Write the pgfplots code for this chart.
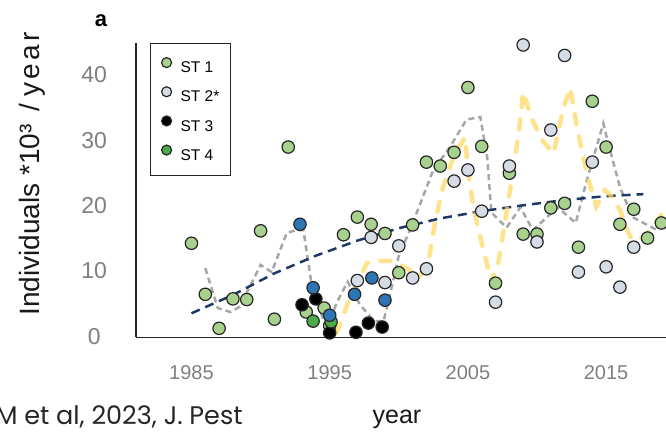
\documentclass[border=0pt]{standalone}
\usepackage{pgfplots}
\pgfplotsset{compat=1.18}
\usepackage{fontspec}
\setmainfont{Liberation Sans}
\newfontfamily\popfont{Poppins}

\definecolor{stone}{HTML}{A9D18E}
\definecolor{sttwo}{HTML}{D6DCE5}
\definecolor{stfour}{HTML}{4AAB4A}
\definecolor{stblue}{HTML}{2E75B6}
\definecolor{trendblue}{HTML}{1F3864}
\definecolor{greyline}{HTML}{A6A6A6}
\definecolor{yelline}{HTML}{FFD966}
\definecolor{ticklab}{HTML}{7F7F7F}

\pgfplotsset{
  stpts/.style={only marks, mark=*, mark size=6.2pt,
    mark options={draw=black!85, line width=1.2pt, fill=#1},
    legend image code/.code={\draw[##1, mark size=5pt] plot coordinates {(0pt,5.5pt)};}},
}

\begin{document}
\begin{tikzpicture}
\useasboundingbox (0pt,0pt) rectangle (666pt,433pt);
\begin{axis}[
  at={(136.2pt,95.5pt)}, anchor=south west, scale only axis,
  width=539pt, height=294.5pt,
  xmin=1981, xmax=2020, ymin=0, ymax=45,
  axis x line*=bottom, axis y line*=left,
  axis line style={line width=1.8pt, black!85, -},
  xtick={1985,1995,2005,2015}, ytick={0,10,20,30,40},
  major tick length=0pt,
  /pgf/number format/assume math mode=true,
  /pgf/number format/1000 sep={},
  tick label style={text=ticklab},
  xticklabel style={font=\fontsize{20}{20}\selectfont, anchor=center, yshift=-35pt},
  yticklabel style={font=\fontsize{23}{23}\selectfont, anchor=center, xshift=-42pt, yshift=1pt},
  clip=false,
  legend cell align=left,
  legend style={at={(0.0256,1)}, anchor=north west,
    draw=black!85, line width=1.2pt, fill=white,
    font=\fontsize{15.5}{15.5}\selectfont,
    inner xsep=11pt, inner ysep=14pt, row sep=12.5pt, column sep=9pt,
    nodes={inner sep=0pt}},
]
% ST 1
\addplot[stpts=stone] coordinates {
(1985,14.4) (1986,6.6) (1987,1.4) (1988,5.9) (1989,5.8) (1990,16.3) (1991,2.8)
(1992,29.1) (1993.3,3.9) (1994.6,4.5) (1995,1.8) (1996,15.7) (1997,18.4)
(1998,17.3) (1999,15.9) (2000,9.9) (2001,17.2) (2002,26.8) (2003,26.2)
(2004,28.3) (2005,38.2) (2006,29.2) (2007,8.3) (2008,25.1) (2009,15.8)
(2010,15.8) (2011,19.8) (2012,20.5) (2013,13.8) (2014,36.1) (2015,29.1)
(2016,17.3) (2017,19.6) (2018,15.2) (2019,17.5)};
\addlegendentry{ST 1}
% ST 2*
\addplot[stpts=sttwo] coordinates {
(1997,8.7) (1998,15.3) (1999,8.4) (2000,14.0) (2001,9.1) (2002,10.5)
(2004,23.9) (2005,25.6) (2006,19.3) (2007,5.4) (2008,26.2) (2009,44.7)
(2010,14.6) (2011,31.7) (2012,43.1) (2013,10.0) (2014,26.8) (2015,10.8)
(2016,7.7) (2017,13.8)};
\addlegendentry{ST 2*}
% ST 3
\addplot[stpts=black] coordinates {
(1993,5.0) (1994,5.9) (1995,0.7) (1996.9,0.8) (1997.8,2.2) (1998.8,1.6)};
\addlegendentry{ST 3}
% ST 4
\addplot[stpts=stfour] coordinates {(1993.8,2.5) (1995.1,2.4)};
\addlegendentry{ST 4}
% blue station (no legend entry)
\addplot[stpts=stblue, forget plot] coordinates {
(1992.85,17.3) (1993.8,7.6) (1995,3.4) (1996.8,6.6) (1998.05,9.1) (1999,5.7)};
% grey dashed line
\addplot[forget plot, no marks, greyline, line width=2.5pt, dash pattern=on 6pt off 4pt] coordinates {
(1986.0,10.6) (1986.9,4.5) (1987.8,3.9) (1988.5,4.7) (1990.0,11.1) (1990.8,10.0)
(1991.9,16.0) (1992.6,16.4) (1993.1,16.4) (1993.7,8.0) (1994.1,5.4) (1994.8,1.1)
(1995.5,5.3) (1996.3,8.5) (1997.2,5.0) (1998.2,2.5) (1998.9,2.5) (1999.4,6.9)
(2000.0,12.5) (2000.8,16.4) (2002.5,25.6) (2003.7,29.1) (2004.9,33.3)
(2005.9,33.7) (2006.4,27.5) (2006.7,19.1) (2007.8,16.8) (2008.8,19.9)
(2009.7,16.4) (2011.5,19.9) (2012.8,17.5) (2013.6,24.0) (2014.8,32.7)
(2015.1,30.1) (2016.0,23.0) (2016.9,18.4) (2018.7,16.4)};
% trend
\addplot[forget plot, no marks, trendblue, line width=2.5pt, dash pattern=on 9pt off 6pt] coordinates {
(1985,3.7) (1988,6.5) (1991,9.8) (1994,12.5) (1997,14.8) (2000,16.7)
(2003,18.2) (2006,19.3) (2009,20.2) (2012,21.0) (2015,21.6) (2017.7,21.9)};
% yellow dashed line
\addplot[forget plot, no marks, yelline, opacity=0.75, line width=4.5pt, line cap=round, dash pattern=on 10pt off 12.5pt] coordinates {
(1995.5,0.7) (1996.3,5.2) (1997.7,11.4) (1998.6,11.7) (1999.6,11.7) (2000.8,10.3)
(2001.5,9.2) (2002.2,12.3) (2002.7,18.4) (2003.2,23.0) (2004.0,27.9) (2004.8,30.6)
(2005.0,25.6) (2005.4,19.9) (2006.0,14.4) (2006.7,8.5) (2007.2,11.4) (2007.7,17.9)
(2008.2,24.5) (2008.7,31.7) (2009.0,37.5) (2009.6,33.5) (2010.4,30.1) (2011.2,28.1)
(2011.9,35.0) (2012.4,38.2) (2012.9,32.1) (2013.4,27.0) (2013.8,23.5) (2014.3,20.0)
(2014.9,22.5) (2015.3,21.8) (2016.0,19.5) (2016.6,16.0) (2016.9,14.9) (2017.8,15.3)
(2019.0,18.7)};
\end{axis}
\node[rotate=90, text=black!90, font=\fontsize{28}{28}\selectfont] at (32pt,259pt)
  {Individuals *10³\hspace{5pt} /\hspace{7pt}{\addfontfeature{LetterSpace=12}year}};
\node[text=black!90, font=\fontsize{25}{25}\selectfont] at (397pt,14pt) {year};
\node[font=\bfseries\fontsize{22}{22}\selectfont] at (101pt,412pt) {a};
\node[anchor=base west, text=black!85, font=\popfont\fontsize{25.5}{25.5}\selectfont] at (-8pt,8pt) {M et al, 2023, J. Pest};
\end{tikzpicture}
\end{document}
